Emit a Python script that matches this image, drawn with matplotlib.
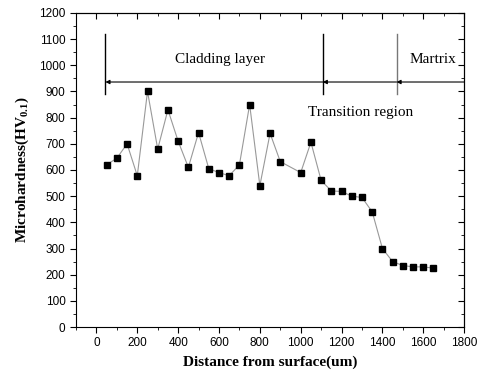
import matplotlib
matplotlib.use("Agg")
import matplotlib.pyplot as plt
from matplotlib.ticker import MultipleLocator

# === DATA ===
distance = [50, 100, 150, 200, 250, 300, 350, 400, 450, 500, 550, 600, 650, 700,
            750, 800, 850, 900, 1000, 1050, 1100, 1150, 1200, 1250, 1300, 1350,
            1400, 1450, 1500, 1550, 1600, 1650]
hardness = [620, 645, 700, 578, 900, 680, 830, 710, 610, 743, 605, 590, 578, 620,
            850, 540, 740, 632, 590, 706, 560, 520, 518, 500, 495, 440,
            300, 250, 235, 230, 230, 225]

region_bounds = [44, 1108, 1469, 1800]
region_names = ["Cladding layer", "Transition region", "Martrix"]

plt.rcParams["mathtext.fontset"] = "custom"
plt.rcParams["mathtext.rm"] = "Liberation Serif:bold"
plt.rcParams["mathtext.bf"] = "Liberation Serif:bold"

fig = plt.figure(figsize=(4.78, 3.79), dpi=100)
ax = fig.add_axes([0.159, 0.137, 0.812, 0.829])

ax.plot(distance, hardness, color="#999999", linewidth=0.8,
        marker="s", markersize=5, markerfacecolor="black", markeredgecolor="black")

# region markers
for xb, c in zip(region_bounds[:3], ["black", "black", "#777777"]):
    ax.plot([xb, xb], [890, 1120], color=c, linewidth=1)
for i in range(3):
    ax.annotate("", xy=(region_bounds[i], 936), xytext=(region_bounds[i + 1], 936),
                arrowprops=dict(arrowstyle="-|>", color="black", lw=0.8,
                                mutation_scale=6, shrinkA=0, shrinkB=0))
ax.text(605, 1023, region_names[0], ha="center", va="center",
        fontfamily="Liberation Serif", fontsize=11)
ax.text(1293, 821, region_names[1], ha="center", va="center",
        fontfamily="Liberation Serif", fontsize=11)
ax.text(1645, 1023, region_names[2], ha="center", va="center",
        fontfamily="Liberation Serif", fontsize=11)

ax.set_xlim(-100, 1800)
ax.set_ylim(0, 1200)
ax.xaxis.set_major_locator(MultipleLocator(200))
ax.xaxis.set_minor_locator(MultipleLocator(100))
ax.yaxis.set_major_locator(MultipleLocator(100))
ax.yaxis.set_minor_locator(MultipleLocator(50))
ax.tick_params(which="both", direction="out", top=False, right=False,
               labelsize=8.5)
ax.tick_params(which="major", length=4)
ax.tick_params(which="minor", length=2.5)
for lab in ax.get_xticklabels() + ax.get_yticklabels():
    lab.set_fontfamily("Liberation Sans")

# inward ticks on top and right
axt = ax.secondary_xaxis("top")
axt.xaxis.set_major_locator(MultipleLocator(200))
axt.xaxis.set_minor_locator(MultipleLocator(100))
axt.tick_params(which="both", direction="in", labeltop=False)
axt.tick_params(which="major", length=4)
axt.tick_params(which="minor", length=2.5)
axr = ax.secondary_yaxis("right")
axr.yaxis.set_major_locator(MultipleLocator(100))
axr.yaxis.set_minor_locator(MultipleLocator(50))
axr.tick_params(which="both", direction="in", labelright=False)
axr.tick_params(which="major", length=4)
axr.tick_params(which="minor", length=2.5)

ax.set_xlabel("Distance from surface(um)", fontfamily="Liberation Serif",
              fontweight="bold", fontsize=11, labelpad=4)
ax.set_ylabel(r"Microhardness(HV$_{0.1}$)", fontfamily="Liberation Serif",
              fontweight="bold", fontsize=11, labelpad=6)

fig.savefig("out.png", dpi=100)
